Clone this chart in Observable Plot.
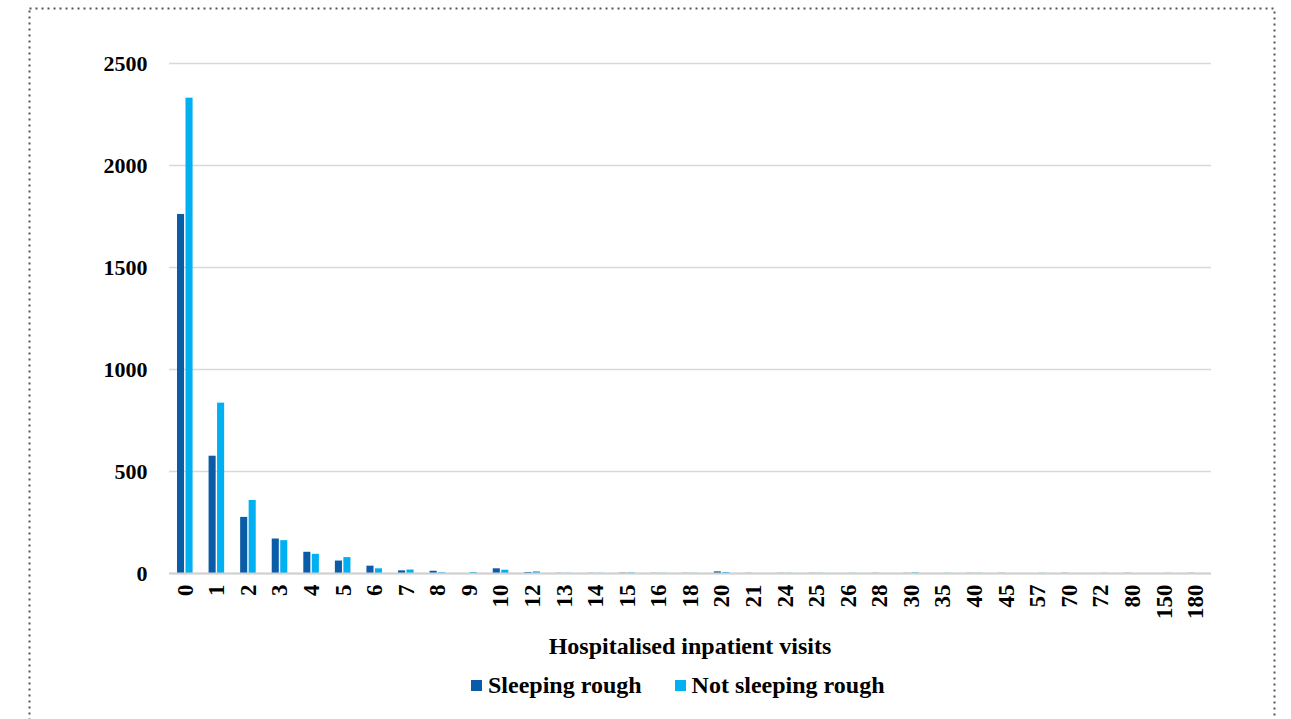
<!DOCTYPE html>
<html>
<head>
<meta charset="utf-8">
<script src="https://cdn.jsdelivr.net/npm/d3@7"></script>
<script src="https://cdn.jsdelivr.net/npm/@observablehq/plot@0.6"></script>
<style>
  html, body { margin: 0; padding: 0; background: #fff; }
  body { width: 1291px; height: 719px; position: relative; overflow: hidden; font-family: "Liberation Serif", "Times New Roman", serif; }
  #border { position: absolute; left: 0; top: 0; }
  #chart { position: absolute; left: 0; top: 0; }
  #title { position: absolute; left: 0; width: 1380px; top: 633px; text-align: center; font-weight: bold; font-size: 24px; color: #000; }
  #legend { position: absolute; left: 471px; top: 672px; display: flex; align-items: center; font-weight: bold; font-size: 24px; color: #000; }
  .sw { display: inline-block; width: 11px; height: 11px; margin-right: 6px; }
  .item { display: flex; align-items: center; }
</style>
</head>
<body>
<svg id="border" width="1291" height="719">
  <rect x="29.5" y="8.5" width="1245" height="740" fill="none" stroke="#555" stroke-width="2" stroke-dasharray="2 4"></rect>
</svg>
<div id="chart"></div>
<div id="title">Hospitalised inpatient visits</div>
<div id="legend">
  <span class="item"><span class="sw" style="background:#0A5CA8"></span>Sleeping rough</span>
  <span class="item" style="margin-left:33px"><span class="sw" style="background:#00B0F0"></span>Not sleeping rough</span>
</div>
<script>
const categories = ["0","1","2","3","4","5","6","7","8","9","10","12","13","14","15","16","18","20","21","24","25","26","28","30","35","40","45","57","70","72","80","150","180"];
const sleepingRough    = [1760, 575, 275, 169, 104, 61, 36, 13, 11, 0, 23, 5, 1, 1, 2, 1, 1, 8, 1, 1, 1, 0, 1, 1, 0, 1, 1, 0, 1, 0, 1, 0, 1];
const notSleepingRough = [2330, 835, 358, 161, 94, 78, 23, 17, 4, 5, 16, 8, 1, 1, 3, 1, 1, 5, 0, 1, 1, 1, 0, 3, 1, 1, 0, 1, 0, 1, 0, 1, 0];
const yTicks = [0, 500, 1000, 1500, 2000, 2500];
const seriesNames = ["Sleeping rough", "Not sleeping rough"];
const seriesColors = ["#0A5CA8", "#00B0F0"];

const dark = categories.map((c, i) => ({category: c, value: sleepingRough[i]}));
const light = categories.map((c, i) => ({category: c, value: notSleepingRough[i]}));

const chart = Plot.plot({
  width: 1291,
  height: 625,
  marginLeft: 169,
  marginRight: 80,
  marginTop: 63,
  marginBottom: 52,
  style: {fontFamily: "'Liberation Serif', 'Times New Roman', serif", fontWeight: "bold", fontSize: "22px", color: "#000", background: "transparent"},
  x: {domain: categories, padding: 0, round: false, label: null},
  y: {domain: [0, 2500], label: null},
  marks: [
    Plot.gridY(yTicks, {stroke: "#d9d9d9", strokeOpacity: 1, strokeWidth: 1.3}),
    Plot.barY(dark, {x: "category", y: "value", fill: seriesColors[0], insetLeft: 8, insetRight: 16.5}),
    Plot.barY(light, {x: "category", y: "value", fill: seriesColors[1], insetLeft: 16.5, insetRight: 8}),
    Plot.ruleY([0], {stroke: "#d0d0d0", strokeWidth: 2}),
    Plot.axisY(yTicks, {tickSize: 0, tickPadding: 22, tickFormat: d => String(d), label: null, fontSize: 22, fontWeight: "bold"}),
    Plot.axisX({tickSize: 0, tickPadding: 11, tickRotate: -90, label: null, fontSize: 23, fontWeight: "bold"})
  ]
});
document.getElementById("chart").appendChild(chart);
</script>
</body>
</html>
